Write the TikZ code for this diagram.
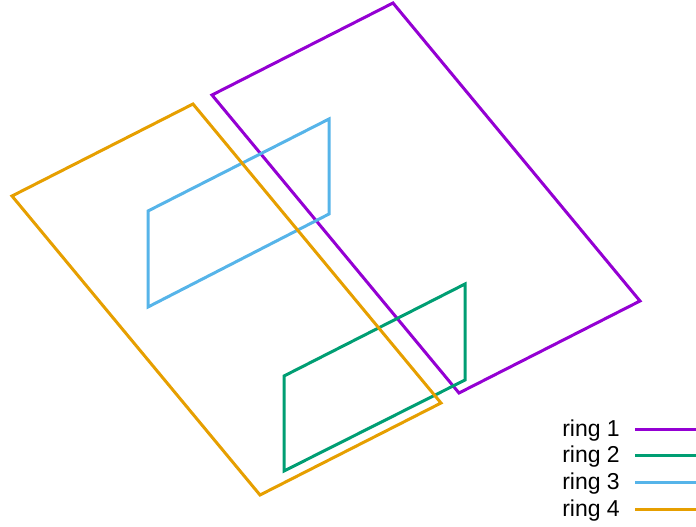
\documentclass[tikz,border=0pt]{standalone}
\usepackage{fontspec}
\setmainfont{Liberation Sans}
\definecolor{cA}{HTML}{9400D3}
\definecolor{cB}{HTML}{009E73}
\definecolor{cC}{HTML}{56B4E9}
\definecolor{cD}{HTML}{E69F00}
\begin{document}
\begin{tikzpicture}[x=1pt,y=-1pt,
  ring/.style={line width=3pt,line join=miter},
  lab/.style={anchor=east,inner sep=0pt,font=\fontsize{23}{23}\selectfont}]
\useasboundingbox (0,0) rectangle (696,527);
% ring 1
\draw[ring,cA] (212,95) -- (393,3) -- (640,301) -- (459,393) -- cycle;
% ring 2
\draw[ring,cB] (284,376) -- (465,284) -- (465,380) -- (284,471) -- cycle;
% ring 3
\draw[ring,cC] (148,211) -- (329,119) -- (329,214) -- (148,307) -- cycle;
% ring 4
\draw[ring,cD] (12,196) -- (193,104) -- (441,403) -- (260,495) -- cycle;
% legend
\node[lab] (l1) at (620,431) {ring 1};
\node[lab] (l2) at (620,457) {ring 2};
\node[lab] (l3) at (620,484) {ring 3};
\node[lab] (l4) at (620,511) {ring 4};
\coordinate (a1) at (635,429); \coordinate (b1) at (696,429);
\coordinate (a2) at (635,455); \coordinate (b2) at (696,455);
\coordinate (a3) at (635,482); \coordinate (b3) at (696,482);
\coordinate (a4) at (635,509); \coordinate (b4) at (696,509);
\draw[ring,cA] (a1) -- (b1);
\draw[ring,cB] (a2) -- (b2);
\draw[ring,cC] (a3) -- (b3);
\draw[ring,cD] (a4) -- (b4);
\end{tikzpicture}
\end{document}
